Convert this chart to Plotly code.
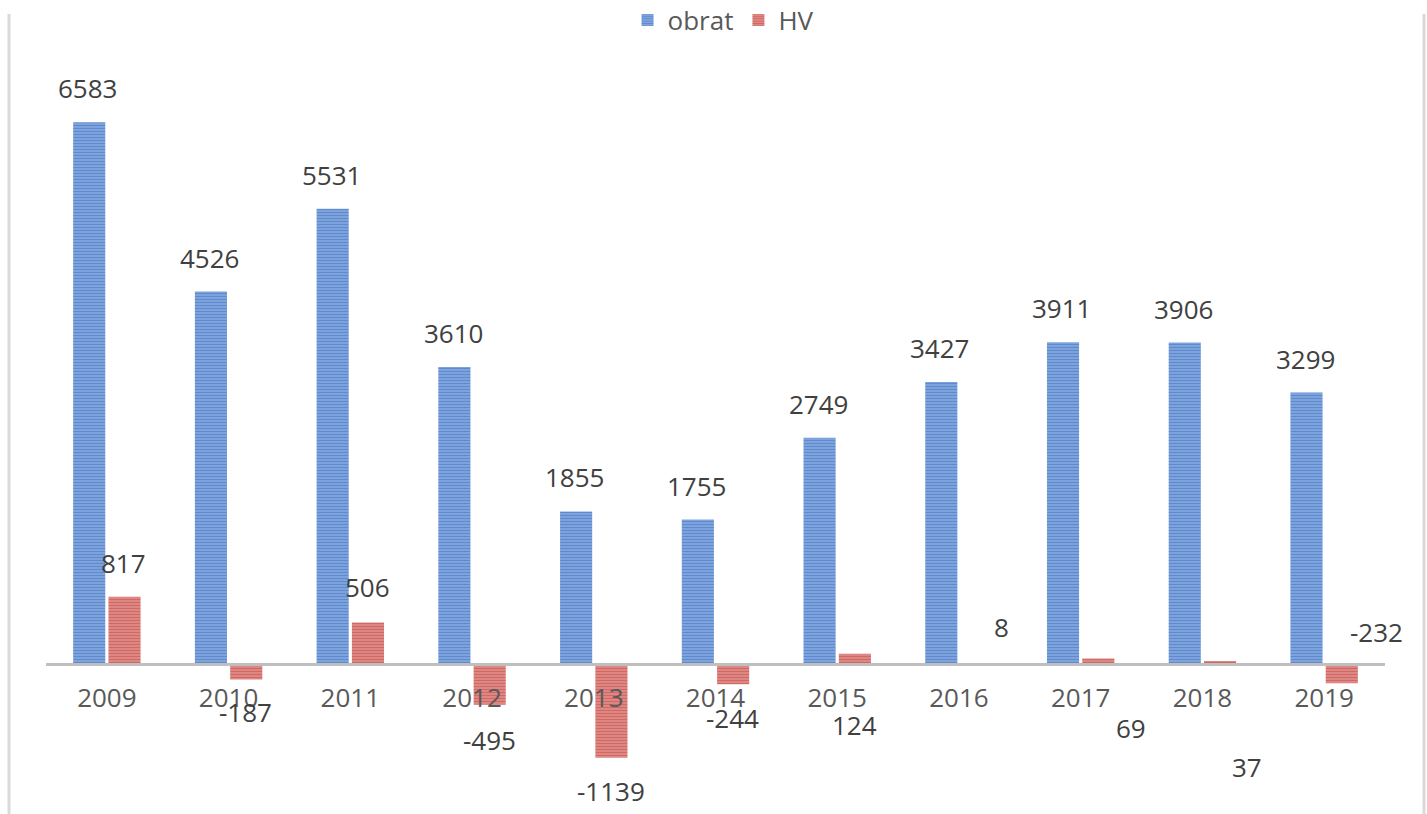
import plotly.graph_objects as go

years = ["2009", "2010", "2011", "2012", "2013", "2014", "2015", "2016", "2017", "2018", "2019"]
obrat = [6583, 4526, 5531, 3610, 1855, 1755, 2749, 3427, 3911, 3906, 3299]
hv = [817, -187, 506, -495, -1139, -244, 124, 8, 69, 37, -232]

# label offsets in pixels (the reference has some HV labels moved by hand)
hv_label_dx = [0, 0, 0, 0, 0, 0, 0, 26, 33, 28, 35]
hv_label_dy = [34, -33, 35, -35, -33, -34, -71, 36, -70, -106, 51]

W, H = 1427, 814
ML, MR, MT, MB = 46, 42, 40, 10
y_lo, y_hi = -1700, 7582

FONT = "Open Sans, Liberation Sans, sans-serif"
TXT = "#404040"

fig = go.Figure()
fig.add_trace(go.Bar(
    x=years, y=obrat, name="obrat",
    marker=dict(color="#3566B6", line=dict(width=0),
                pattern=dict(shape="-", fgcolor="#3566B6", bgcolor="#8AAEE4",
                             size=3, solidity=0.55)),
))
fig.add_trace(go.Bar(
    x=years, y=hv, name="HV",
    marker=dict(color="#B8403D", line=dict(width=0),
                pattern=dict(shape="-", fgcolor="#B8403D", bgcolor="#E5928F",
                             size=3, solidity=0.55)),
))

anns = []
for i, v in enumerate(obrat):
    anns.append(dict(x=i, y=v, xref="x", yref="y", text=str(v), showarrow=False,
                     xshift=-19, yshift=34, yanchor="middle",
                     font=dict(size=26, color=TXT, family=FONT)))
for i, (v, dx, dy) in enumerate(zip(hv, hv_label_dx, hv_label_dy)):
    anns.append(dict(x=i, y=v, xref="x", yref="y", text=str(v), showarrow=False,
                     xshift=17 + dx, yshift=dy, yanchor="middle",
                     font=dict(size=26, color=TXT, family=FONT)))

plot_h = H - MT - MB
plot_w = W - ML - MR
zero_pos = (0 - y_lo) / (y_hi - y_lo)

def px_to_paper_x(px):
    return (px - ML) / plot_w

def px_to_paper_y(py):
    return (H - MB - py) / plot_h

shapes = []
for fx in (9, 1424):
    shapes.append(dict(type="line", xref="paper", yref="paper",
                       x0=px_to_paper_x(fx), x1=px_to_paper_x(fx),
                       y0=px_to_paper_y(14), y1=px_to_paper_y(H),
                       line=dict(color="#D9D9D9", width=3)))

fig.update_layout(
    width=W, height=H,
    margin=dict(l=ML, r=MR, t=MT, b=MB, autoexpand=False),
    paper_bgcolor="white", plot_bgcolor="white",
    barmode="group", bargap=0.42, bargroupgap=0.09,
    font=dict(family=FONT, size=26, color=TXT),
    showlegend=True,
    legend=dict(orientation="h", x=0.506, xanchor="center", y=px_to_paper_y(20),
                yanchor="middle", font=dict(size=26, color="#595959", family=FONT),
                bgcolor="rgba(0,0,0,0)", itemwidth=30, tracegroupgap=0),
    xaxis=dict(type="category", range=[-0.5, 10.5], anchor="free", position=zero_pos,
               showline=True, linecolor="#BFBFBF", linewidth=3, ticks="",
               ticklabelstandoff=10,
               showgrid=False, zeroline=False,
               tickfont=dict(size=26, color="#595959", family=FONT)),
    yaxis=dict(range=[y_lo, y_hi], visible=False, showgrid=False, zeroline=False),
    annotations=anns,
    shapes=shapes,
)

fig.write_html("out.html", config={"displayModeBar": False},
               post_script="document.body.style.margin='0';")
